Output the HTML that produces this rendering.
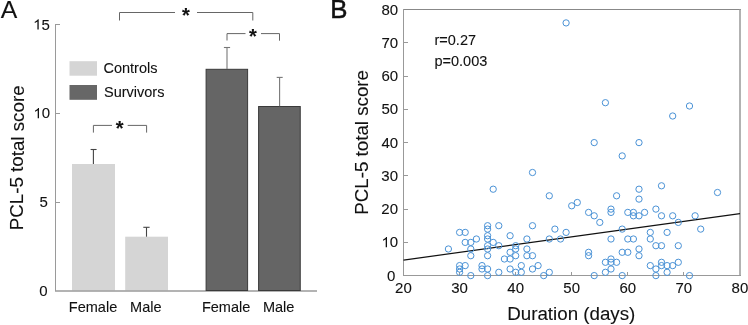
<!DOCTYPE html>
<html><head><meta charset="utf-8">
<style>
html,body{margin:0;padding:0;background:#fff;}
body{width:748px;height:325px;overflow:hidden;}
svg{display:block;will-change:transform;}
text{font-family:"Liberation Sans", sans-serif;fill:#111;stroke:#111;stroke-width:0.1px;}
</style></head><body>
<svg width="748" height="325" viewBox="0 0 748 325">
<rect x="0" y="0" width="748" height="325" fill="#fff"/>
<!-- Panel A -->
<text transform="rotate(0.01)" x="0.7" y="17.8" font-size="24.8">A</text>
<g stroke="#9a9a9a" stroke-width="1" fill="none" shape-rendering="crispEdges">
<line x1="55.5" y1="24" x2="55.5" y2="291"/>
<line x1="55.5" y1="24.5" x2="59.5" y2="24.5"/>
<line x1="55.5" y1="113.5" x2="59.5" y2="113.5"/>
<line x1="55.5" y1="202.5" x2="59.5" y2="202.5"/>
</g>
<g font-size="15" text-anchor="end">
<path transform="translate(33.12,29.50) scale(0.007324,-0.007324)" d="M763,0 L583,0 L583,1102 Q518,1043 413,983 Q307,924 223,894 L223,1061 Q374,1129 487,1226 Q601,1323 648,1409 L763,1409 Z" fill="#111"/><text transform="rotate(0.01)" x="41.46" y="29.50" font-size="15" text-anchor="start">5</text>
<path transform="translate(33.42,118.20) scale(0.007324,-0.007324)" d="M763,0 L583,0 L583,1102 Q518,1043 413,983 Q307,924 223,894 L223,1061 Q374,1129 487,1226 Q601,1323 648,1409 L763,1409 Z" fill="#111"/><text transform="rotate(0.01)" x="41.76" y="118.20" font-size="15" text-anchor="start">0</text>
<text transform="rotate(0.01)" x="47.8" y="207.1">5</text>
<text transform="rotate(0.01)" x="47.6" y="296">0</text>
</g>
<text transform="translate(23.5,157.85) rotate(-89.99)" font-size="18.75" text-anchor="middle">PCL-5 total score</text>
<!-- bars -->
<rect x="72" y="164" width="43" height="126.5" fill="#d5d5d5"/>
<rect x="125.2" y="236.7" width="42.8" height="53.8" fill="#d5d5d5"/>
<line x1="55" y1="290.9" x2="317" y2="290.9" stroke="#9a9a9a" stroke-width="1.5"/>
<rect x="206.1" y="69.3" width="41.5" height="221.2" fill="#656565" stroke="#3a3a3a" stroke-width="1"/>
<rect x="258.6" y="106.5" width="41.65" height="184" fill="#656565" stroke="#3a3a3a" stroke-width="1"/>
<!-- error bars -->
<g stroke="#444" stroke-width="1.1" fill="none">
<line x1="93.4" y1="149.5" x2="93.4" y2="164"/>
<line x1="90.6" y1="149.5" x2="96.6" y2="149.5"/>
<line x1="146.5" y1="227.3" x2="146.5" y2="236.7"/>
<line x1="143.3" y1="227.3" x2="149.6" y2="227.3"/>
</g>
<g stroke="#777" stroke-width="1.1" fill="none">
<line x1="227" y1="47.5" x2="227" y2="69"/>
<line x1="223.9" y1="47.5" x2="230.1" y2="47.5"/>
<line x1="279.6" y1="77.4" x2="279.6" y2="106.3"/>
<line x1="276.7" y1="77.4" x2="282.7" y2="77.4"/>
</g>
<!-- legend -->
<rect x="69.5" y="61.2" width="27.5" height="14.5" fill="#d5d5d5"/>
<rect x="69.5" y="85" width="27.5" height="14.8" fill="#676767"/>
<g font-size="14.5">
<text transform="rotate(0.01)" x="103.5" y="73.2">Controls</text>
<text transform="rotate(0.01)" x="104" y="96.9">Survivors</text>
</g>
<!-- brackets -->
<g stroke="#666" stroke-width="1" fill="none">
<polyline points="119.5,20.5 119.5,12.5 175,12.5"/>
<polyline points="197,12.5 252.8,12.5 252.8,20.5"/>
<polyline points="227,40.5 227,33.6 245.5,33.6"/>
<polyline points="261,33.6 279.5,33.6 279.5,40.7"/>
<polyline points="93.4,132.6 93.4,125.4 112,125.4"/>
<polyline points="127.7,125.4 146.6,125.4 146.6,132.6"/>
</g>
<g font-size="20" text-anchor="middle" font-weight="bold" style="stroke:none">
<text transform="rotate(0.01)" x="186" y="22">*</text>
<text transform="rotate(0.01)" x="252.8" y="43.1">*</text>
<text transform="rotate(0.01)" x="119.8" y="134.6">*</text>
</g>
<g font-size="14.5" text-anchor="middle">
<text transform="rotate(0.01)" x="93.1" y="311.7">Female</text>
<text transform="rotate(0.01)" x="145.9" y="311.7">Male</text>
<text transform="rotate(0.01)" x="226.15" y="311.7">Female</text>
<text transform="rotate(0.01)" x="278.7" y="311.7">Male</text>
</g>

<!-- Panel B -->
<text transform="rotate(0.01)" x="330.2" y="17.9" font-size="25.8" style="stroke-width:0.5px">B</text>
<g stroke-width="1" fill="none" shape-rendering="crispEdges">
<line x1="403" y1="9.5" x2="741" y2="9.5" stroke="#888"/>
<line x1="403" y1="275.5" x2="741" y2="275.5" stroke="#999"/>
<line x1="403.5" y1="9" x2="403.5" y2="276" stroke="#999"/>

</g>
<g stroke="#999" stroke-width="1" shape-rendering="crispEdges">
<line x1="403.5" y1="242.4" x2="407.5" y2="242.4"/><line x1="403.5" y1="209.1" x2="407.5" y2="209.1"/><line x1="403.5" y1="175.9" x2="407.5" y2="175.9"/><line x1="403.5" y1="142.6" x2="407.5" y2="142.6"/><line x1="403.5" y1="109.4" x2="407.5" y2="109.4"/><line x1="403.5" y1="76.1" x2="407.5" y2="76.1"/><line x1="403.5" y1="42.9" x2="407.5" y2="42.9"/>
<line x1="459.6" y1="275.5" x2="459.6" y2="271.5"/><line x1="515.7" y1="275.5" x2="515.7" y2="271.5"/><line x1="571.7" y1="275.5" x2="571.7" y2="271.5"/><line x1="627.8" y1="275.5" x2="627.8" y2="271.5"/><line x1="683.9" y1="275.5" x2="683.9" y2="271.5"/>
</g>
<g font-size="15" text-anchor="end">
<text transform="rotate(0.01)" x="387.16" y="280.45" font-size="15" text-anchor="start">0</text><path transform="translate(381.42,247.20) scale(0.007324,-0.007324)" d="M763,0 L583,0 L583,1102 Q518,1043 413,983 Q307,924 223,894 L223,1061 Q374,1129 487,1226 Q601,1323 648,1409 L763,1409 Z" fill="#111"/><text transform="rotate(0.01)" x="389.76" y="247.20" font-size="15" text-anchor="start">0</text><text transform="rotate(0.01)" x="381.42" y="213.95" font-size="15" text-anchor="start">2</text><text transform="rotate(0.01)" x="389.76" y="213.95" font-size="15" text-anchor="start">0</text><text transform="rotate(0.01)" x="381.42" y="180.70" font-size="15" text-anchor="start">3</text><text transform="rotate(0.01)" x="389.76" y="180.70" font-size="15" text-anchor="start">0</text><text transform="rotate(0.01)" x="381.42" y="147.45" font-size="15" text-anchor="start">4</text><text transform="rotate(0.01)" x="389.76" y="147.45" font-size="15" text-anchor="start">0</text><text transform="rotate(0.01)" x="381.42" y="114.20" font-size="15" text-anchor="start">5</text><text transform="rotate(0.01)" x="389.76" y="114.20" font-size="15" text-anchor="start">0</text><text transform="rotate(0.01)" x="381.42" y="80.95" font-size="15" text-anchor="start">6</text><text transform="rotate(0.01)" x="389.76" y="80.95" font-size="15" text-anchor="start">0</text><text transform="rotate(0.01)" x="381.42" y="47.70" font-size="15" text-anchor="start">7</text><text transform="rotate(0.01)" x="389.76" y="47.70" font-size="15" text-anchor="start">0</text><text transform="rotate(0.01)" x="381.42" y="14.45" font-size="15" text-anchor="start">8</text><text transform="rotate(0.01)" x="389.76" y="14.45" font-size="15" text-anchor="start">0</text>
</g>
<g font-size="15" text-anchor="middle">
<text transform="rotate(0.01)" x="403.5" y="293.1">20</text><text transform="rotate(0.01)" x="459.6" y="293.1">30</text><text transform="rotate(0.01)" x="515.7" y="293.1">40</text><text transform="rotate(0.01)" x="571.7" y="293.1">50</text><text transform="rotate(0.01)" x="627.8" y="293.1">60</text><text transform="rotate(0.01)" x="683.9" y="293.1">70</text><text transform="rotate(0.01)" x="740.0" y="293.1">80</text>
</g>
<text transform="translate(368,142.4) rotate(-89.99)" font-size="18.75" text-anchor="middle">PCL-5 total score</text>
<text transform="rotate(0.01)" x="571.35" y="320.3" font-size="18.75" text-anchor="middle">Duration (days)</text>
<g font-size="14.5">
<text transform="rotate(0.01)" x="434.5" y="45.2">r=0.27</text>
<text transform="rotate(0.01)" x="434.5" y="65.9">p=0.003</text>
</g>
<line x1="740" y1="9" x2="740" y2="276" stroke="#999" stroke-width="1.5"/>
<line x1="403.5" y1="260.1" x2="740" y2="213.6" stroke="#111" stroke-width="1.2"/>
<g fill="none" stroke="#4a92d6" stroke-width="1">
<circle cx="566.1" cy="22.9" r="3.15"/>
<circle cx="605.4" cy="102.7" r="3.15"/>
<circle cx="672.7" cy="116.0" r="3.15"/>
<circle cx="689.5" cy="106.0" r="3.15"/>
<circle cx="594.2" cy="142.6" r="3.15"/>
<circle cx="639.0" cy="142.6" r="3.15"/>
<circle cx="622.2" cy="155.9" r="3.15"/>
<circle cx="532.5" cy="172.5" r="3.15"/>
<circle cx="493.2" cy="189.2" r="3.15"/>
<circle cx="661.5" cy="185.8" r="3.15"/>
<circle cx="639.0" cy="189.2" r="3.15"/>
<circle cx="549.3" cy="195.8" r="3.15"/>
<circle cx="616.6" cy="195.8" r="3.15"/>
<circle cx="717.5" cy="192.5" r="3.15"/>
<circle cx="639.0" cy="199.1" r="3.15"/>
<circle cx="571.7" cy="205.8" r="3.15"/>
<circle cx="577.3" cy="202.5" r="3.15"/>
<circle cx="655.9" cy="209.1" r="3.15"/>
<circle cx="611.0" cy="209.1" r="3.15"/>
<circle cx="611.0" cy="212.4" r="3.15"/>
<circle cx="588.6" cy="212.4" r="3.15"/>
<circle cx="594.2" cy="215.8" r="3.15"/>
<circle cx="627.8" cy="212.4" r="3.15"/>
<circle cx="633.4" cy="212.4" r="3.15"/>
<circle cx="633.4" cy="215.8" r="3.15"/>
<circle cx="639.0" cy="215.8" r="3.15"/>
<circle cx="644.6" cy="212.4" r="3.15"/>
<circle cx="661.5" cy="215.8" r="3.15"/>
<circle cx="672.7" cy="215.8" r="3.15"/>
<circle cx="695.1" cy="215.8" r="3.15"/>
<circle cx="599.8" cy="222.4" r="3.15"/>
<circle cx="678.3" cy="222.4" r="3.15"/>
<circle cx="487.6" cy="225.7" r="3.15"/>
<circle cx="498.8" cy="225.7" r="3.15"/>
<circle cx="532.5" cy="225.7" r="3.15"/>
<circle cx="487.6" cy="229.1" r="3.15"/>
<circle cx="554.9" cy="229.1" r="3.15"/>
<circle cx="622.2" cy="229.1" r="3.15"/>
<circle cx="700.7" cy="229.1" r="3.15"/>
<circle cx="459.6" cy="232.4" r="3.15"/>
<circle cx="465.2" cy="232.4" r="3.15"/>
<circle cx="566.1" cy="232.4" r="3.15"/>
<circle cx="650.3" cy="232.4" r="3.15"/>
<circle cx="667.1" cy="232.4" r="3.15"/>
<circle cx="487.6" cy="235.7" r="3.15"/>
<circle cx="510.1" cy="235.7" r="3.15"/>
<circle cx="476.4" cy="239.0" r="3.15"/>
<circle cx="487.6" cy="239.0" r="3.15"/>
<circle cx="526.9" cy="239.0" r="3.15"/>
<circle cx="549.3" cy="239.0" r="3.15"/>
<circle cx="560.5" cy="239.0" r="3.15"/>
<circle cx="611.0" cy="239.0" r="3.15"/>
<circle cx="627.8" cy="239.0" r="3.15"/>
<circle cx="633.4" cy="239.0" r="3.15"/>
<circle cx="650.3" cy="239.0" r="3.15"/>
<circle cx="465.2" cy="242.4" r="3.15"/>
<circle cx="470.8" cy="242.4" r="3.15"/>
<circle cx="493.2" cy="242.4" r="3.15"/>
<circle cx="487.6" cy="245.7" r="3.15"/>
<circle cx="498.8" cy="245.7" r="3.15"/>
<circle cx="515.7" cy="245.7" r="3.15"/>
<circle cx="655.9" cy="245.7" r="3.15"/>
<circle cx="661.5" cy="245.7" r="3.15"/>
<circle cx="678.3" cy="245.7" r="3.15"/>
<circle cx="448.4" cy="249.0" r="3.15"/>
<circle cx="470.8" cy="249.0" r="3.15"/>
<circle cx="487.6" cy="249.0" r="3.15"/>
<circle cx="515.7" cy="249.0" r="3.15"/>
<circle cx="526.9" cy="249.0" r="3.15"/>
<circle cx="639.0" cy="249.0" r="3.15"/>
<circle cx="510.1" cy="252.3" r="3.15"/>
<circle cx="588.6" cy="252.3" r="3.15"/>
<circle cx="622.2" cy="252.3" r="3.15"/>
<circle cx="627.8" cy="252.3" r="3.15"/>
<circle cx="470.8" cy="255.7" r="3.15"/>
<circle cx="487.6" cy="255.7" r="3.15"/>
<circle cx="515.7" cy="255.7" r="3.15"/>
<circle cx="526.9" cy="255.7" r="3.15"/>
<circle cx="532.5" cy="255.7" r="3.15"/>
<circle cx="588.6" cy="255.7" r="3.15"/>
<circle cx="639.0" cy="255.7" r="3.15"/>
<circle cx="504.4" cy="259.0" r="3.15"/>
<circle cx="510.1" cy="259.0" r="3.15"/>
<circle cx="611.0" cy="259.0" r="3.15"/>
<circle cx="611.0" cy="262.3" r="3.15"/>
<circle cx="605.4" cy="262.3" r="3.15"/>
<circle cx="616.6" cy="262.3" r="3.15"/>
<circle cx="661.5" cy="262.3" r="3.15"/>
<circle cx="678.3" cy="262.3" r="3.15"/>
<circle cx="459.6" cy="265.6" r="3.15"/>
<circle cx="465.2" cy="265.6" r="3.15"/>
<circle cx="482.0" cy="265.6" r="3.15"/>
<circle cx="521.3" cy="265.6" r="3.15"/>
<circle cx="538.1" cy="265.6" r="3.15"/>
<circle cx="650.3" cy="265.6" r="3.15"/>
<circle cx="661.5" cy="265.6" r="3.15"/>
<circle cx="667.1" cy="265.6" r="3.15"/>
<circle cx="672.7" cy="265.6" r="3.15"/>
<circle cx="459.6" cy="269.0" r="3.15"/>
<circle cx="482.0" cy="269.0" r="3.15"/>
<circle cx="487.6" cy="269.0" r="3.15"/>
<circle cx="510.1" cy="269.0" r="3.15"/>
<circle cx="532.5" cy="269.0" r="3.15"/>
<circle cx="611.0" cy="269.0" r="3.15"/>
<circle cx="655.9" cy="269.0" r="3.15"/>
<circle cx="459.6" cy="272.3" r="3.15"/>
<circle cx="498.8" cy="272.3" r="3.15"/>
<circle cx="515.7" cy="272.3" r="3.15"/>
<circle cx="521.3" cy="272.3" r="3.15"/>
<circle cx="549.3" cy="272.3" r="3.15"/>
<circle cx="605.4" cy="272.3" r="3.15"/>
<circle cx="667.1" cy="272.3" r="3.15"/>
<circle cx="470.8" cy="275.6" r="3.15"/>
<circle cx="487.6" cy="275.6" r="3.15"/>
<circle cx="543.7" cy="275.6" r="3.15"/>
<circle cx="594.2" cy="275.6" r="3.15"/>
<circle cx="622.2" cy="275.6" r="3.15"/>
<circle cx="655.9" cy="275.6" r="3.15"/>
<circle cx="689.5" cy="275.6" r="3.15"/>
</g>
</svg>
</body></html>
